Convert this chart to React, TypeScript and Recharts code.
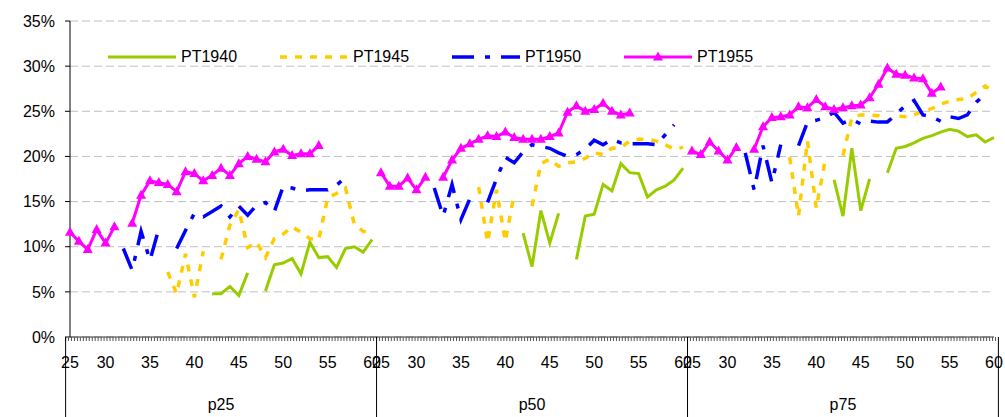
import { LineChart, Line, XAxis, YAxis, CartesianGrid, Legend } from "recharts";

const _ = null;

const PANELS = ["p25", "p50", "p75"];
const AGES = [26, 27, 28, 29, 30, 31, 32, 33, 34, 35, 36, 37, 38, 39, 40, 41, 42, 43, 44, 45, 46, 47, 48, 49, 50, 51, 52, 53, 54, 55, 56, 57, 58, 59, 60];
const TICK_POS = [0, 4, 9, 14, 19, 24, 29, 34];
const TICK_LABELS = ["25", "30", "35", "40", "45", "50", "55", "60"];
const Y_TICKS = [0, 5, 10, 15, 20, 25, 30, 35];

// share (%) by age index, one array per panel
const PT1940_P25 = [_, _, _, _, _, _, _, _, _, _, _, _, _, _, _, _, 4.8, 4.8, 5.6, 4.6, 7.1, _, 5.1, 8.0, 8.2, 8.7, 7.0, 10.5, 8.8, 8.9, 7.7, 9.8, 10.0, 9.4, 10.8];
const PT1940_P50 = [_, _, _, _, _, _, _, _, _, _, _, _, _, _, _, _, 11.5, 7.8, 14.0, 10.4, 13.7, _, 8.6, 13.4, 13.6, 16.9, 16.2, 19.2, 18.2, 18.1, 15.5, 16.3, 16.7, 17.4, 18.7];
const PT1940_P75 = [_, _, _, _, _, _, _, _, _, _, _, _, _, _, _, _, 17.4, 13.4, 20.9, 14.0, 17.5, _, 18.2, 20.9, 21.1, 21.5, 22.0, 22.3, 22.7, 23.0, 22.8, 22.2, 22.4, 21.6, 22.1];

const PT1945_P25 = [_, _, _, _, _, _, _, _, _, _, _, 7.2, 4.8, 9.2, 4.4, 9.5, _, 8.6, 12.4, 14.1, 9.9, 10.5, 8.8, 10.9, 11.4, 12.2, 11.6, 10.9, 10.8, 15.4, 15.9, 16.5, 12.5, 11.7, 11.5];
const PT1945_P50 = [_, _, _, _, _, _, _, _, _, _, _, 16.6, 10.5, 16.3, 10.6, 15.9, _, 14.5, 19.2, 19.7, 18.9, 19.3, 19.4, 19.8, 20.4, 20.2, 20.9, 21.0, 21.7, 21.9, 21.9, 21.7, 21.3, 20.8, 21.0];
const PT1945_P75 = [_, _, _, _, _, _, _, _, _, _, _, 19.9, 13.4, 21.7, 14.3, 19.6, _, 20.1, 24.3, 24.6, 24.6, 24.5, 23.9, 24.5, 24.4, 24.6, 25.0, 25.3, 25.8, 26.1, 26.3, 26.4, 27.1, 27.8, 27.1];

const PT1950_P25 = [_, _, _, _, _, _, 9.8, 7.4, 11.7, 8.5, 12.0, _, 9.8, 11.8, 13.7, 13.3, 13.9, 14.5, 13.3, 14.5, 13.5, 14.6, 14.9, 13.9, 16.7, 16.5, 16.2, 16.3, 16.3, 16.3, 16.8, 17.7, _, _, _];
const PT1950_P50 = [_, _, _, _, _, _, 16.5, 13.4, 16.9, 13.0, 15.3, _, 14.9, 17.5, 19.9, 19.3, 20.5, 21.3, 21.1, 20.9, 20.4, 20.0, 20.2, 20.8, 21.8, 21.3, 21.9, 21.5, 21.4, 21.4, 21.4, 21.3, 22.4, 23.5, _];
const PT1950_P75 = [_, _, _, _, _, _, 20.4, 16.3, 21.2, 17.1, 21.3, _, 21.2, 23.8, 24.0, 24.3, 24.9, 23.7, 24.1, 23.6, 23.9, 23.8, 23.8, 24.7, 25.6, 26.2, 24.6, 24.4, 23.9, 24.4, 24.2, 24.6, 26.0, 26.9, _];

const PT1955_P25 = [11.6, 10.6, 9.7, 11.9, 10.4, 12.2, _, 12.6, 15.7, 17.3, 17.1, 16.9, 16.1, 18.3, 18.1, 17.3, 17.9, 18.7, 17.9, 19.2, 20.0, 19.7, 19.4, 20.5, 20.8, 20.1, 20.3, 20.3, 21.2, _, _, _, _, _, _];
const PT1955_P50 = [18.2, 16.7, 16.7, 17.6, 16.3, 17.7, _, 17.7, 19.6, 20.9, 21.4, 21.9, 22.3, 22.2, 22.7, 22.1, 21.9, 21.9, 21.9, 22.2, 22.6, 24.9, 25.6, 25.0, 25.2, 25.9, 25.0, 24.6, 24.8, _, _, _, _, _, _];
const PT1955_P75 = [20.6, 20.2, 21.6, 20.6, 19.6, 21.0, _, 20.8, 23.3, 24.3, 24.4, 24.6, 25.5, 25.4, 26.3, 25.5, 25.2, 25.4, 25.6, 25.7, 26.5, 28.0, 29.8, 29.1, 29.0, 28.7, 28.6, 27.0, 27.7, _, _, _, _, _, _];

const SERIES = [
  { key: "PT1940", color: "#99CC00", width: 3, dash: undefined, values: [PT1940_P25, PT1940_P50, PT1940_P75] },
  { key: "PT1945", color: "#FFCC00", width: 3.5, dash: "7 8", values: [PT1945_P25, PT1945_P50, PT1945_P75] },
  { key: "PT1950", color: "#0000FF", width: 3.5, dash: "22 11 5 11", values: [PT1950_P25, PT1950_P50, PT1950_P75] },
  { key: "PT1955", color: "#FF00FF", width: 3, dash: undefined, values: [PT1955_P25, PT1955_P50, PT1955_P75] },
];

const data = PANELS.flatMap((panel, p) =>
  AGES.map((age, k) => {
    const row: any = { key: `${panel}-${age}` };
    SERIES.forEach((s) => { row[s.key] = s.values[p][k]; });
    return row;
  })
);

const W = 1005, H = 417;
const M = { top: 21, right: 11, left: 0, bottom: 0 };
const Y_W = 70;
const BAND = (W - M.left - M.right - Y_W) / data.length;
const FONT = "'Liberation Sans', Arial, sans-serif";
const FS = 16;

function AgeTick({ x, y, index }: any) {
  const k = index % AGES.length;
  const t = TICK_POS.indexOf(k);
  return (
    <g>
      {[0, 1, 2].map((j) => {
        const tx = x - BAND / 2 + (j * BAND) / 3;
        return <line key={j} x1={tx} x2={tx} y1={y} y2={y + 4} stroke="#555" strokeWidth={1} />;
      })}
      {t >= 0 && (
        <text x={x} y={y + 31} textAnchor="middle" fontSize={FS} fill="#000">{TICK_LABELS[t]}</text>
      )}
    </g>
  );
}

function GroupTick({ x, y, index }: any) {
  const k = index % AGES.length;
  const p = Math.floor(index / AGES.length);
  return (
    <g>
      {k === 0 && <line x1={x - BAND / 2} x2={x - BAND / 2} y1={y - 40} y2={y + 40} stroke="#000" />}
      {index === data.length - 1 && <line x1={x + BAND / 2} x2={x + BAND / 2} y1={y - 40} y2={y + 40} stroke="#000" />}
      {k === 17 && (
        <text x={x} y={y + 33} textAnchor="middle" fontSize={FS} fill="#000">{PANELS[p]}</text>
      )}
    </g>
  );
}

function Triangle({ cx, cy, index }: any) {
  if (cx == null || cy == null) return null;
  return <path key={index} d={`M${cx},${cy - 5.5}L${cx + 5},${cy + 3.5}L${cx - 5},${cy + 3.5}Z`} fill="#FF00FF" />;
}

function LegendRow() {
  return (
    <div style={{ display: "flex", fontFamily: FONT, fontSize: FS, lineHeight: "20px", color: "#000" }}>
      {SERIES.map((s) => (
        <div key={s.key} style={{ width: 172, display: "flex", alignItems: "center" }}>
          <svg width={68} height={20}>
            <line x1={0} x2={68} y1={10} y2={10} stroke={s.color} strokeWidth={s.width} strokeDasharray={s.dash} />
            {s.key === "PT1955" && <path d="M34,4.5L39,13.5L29,13.5Z" fill={s.color} />}
          </svg>
          <span style={{ marginLeft: 5 }}>{s.key}</span>
        </div>
      ))}
    </div>
  );
}

export default function App() {
  return (
    <div style={{ position: "absolute", left: 0, top: 0, width: W, height: H, background: "#fff", fontFamily: FONT }}>
      <LineChart width={W} height={H} data={data} margin={M}>
        <CartesianGrid vertical={false} stroke="#C0C0C0" strokeDasharray="8 4" />
        <XAxis xAxisId="age" dataKey="key" interval={0} height={40} tickSize={0} tickMargin={0} tickLine={false}
          axisLine={{ stroke: "#333" }} tick={<AgeTick />} />
        <XAxis xAxisId="group" dataKey="key" interval={0} height={40} tickSize={0} tickMargin={0} tickLine={false}
          axisLine={false} tick={<GroupTick />} />
        <YAxis domain={[0, 35]} ticks={Y_TICKS} width={Y_W} tickSize={5} tickMargin={10}
          tickFormatter={(v) => `${v}%`} axisLine={{ stroke: "#000" }} tickLine={{ stroke: "#000" }}
          tick={{ fontSize: FS, fill: "#000" }} />
        <Legend layout="vertical" align="center" verticalAlign="middle"
          wrapperStyle={{ left: 108, top: 47, width: 720, height: 20 }} content={() => <LegendRow />} />
        {SERIES.map((s) => (
          <Line key={s.key} xAxisId="age" type="linear" dataKey={s.key} stroke={s.color} strokeWidth={s.width}
            strokeDasharray={s.dash} dot={s.key === "PT1955" ? (props: any) => <Triangle {...props} /> : false}
            activeDot={false} isAnimationActive={false} connectNulls={false} />
        ))}
      </LineChart>
    </div>
  );
}
